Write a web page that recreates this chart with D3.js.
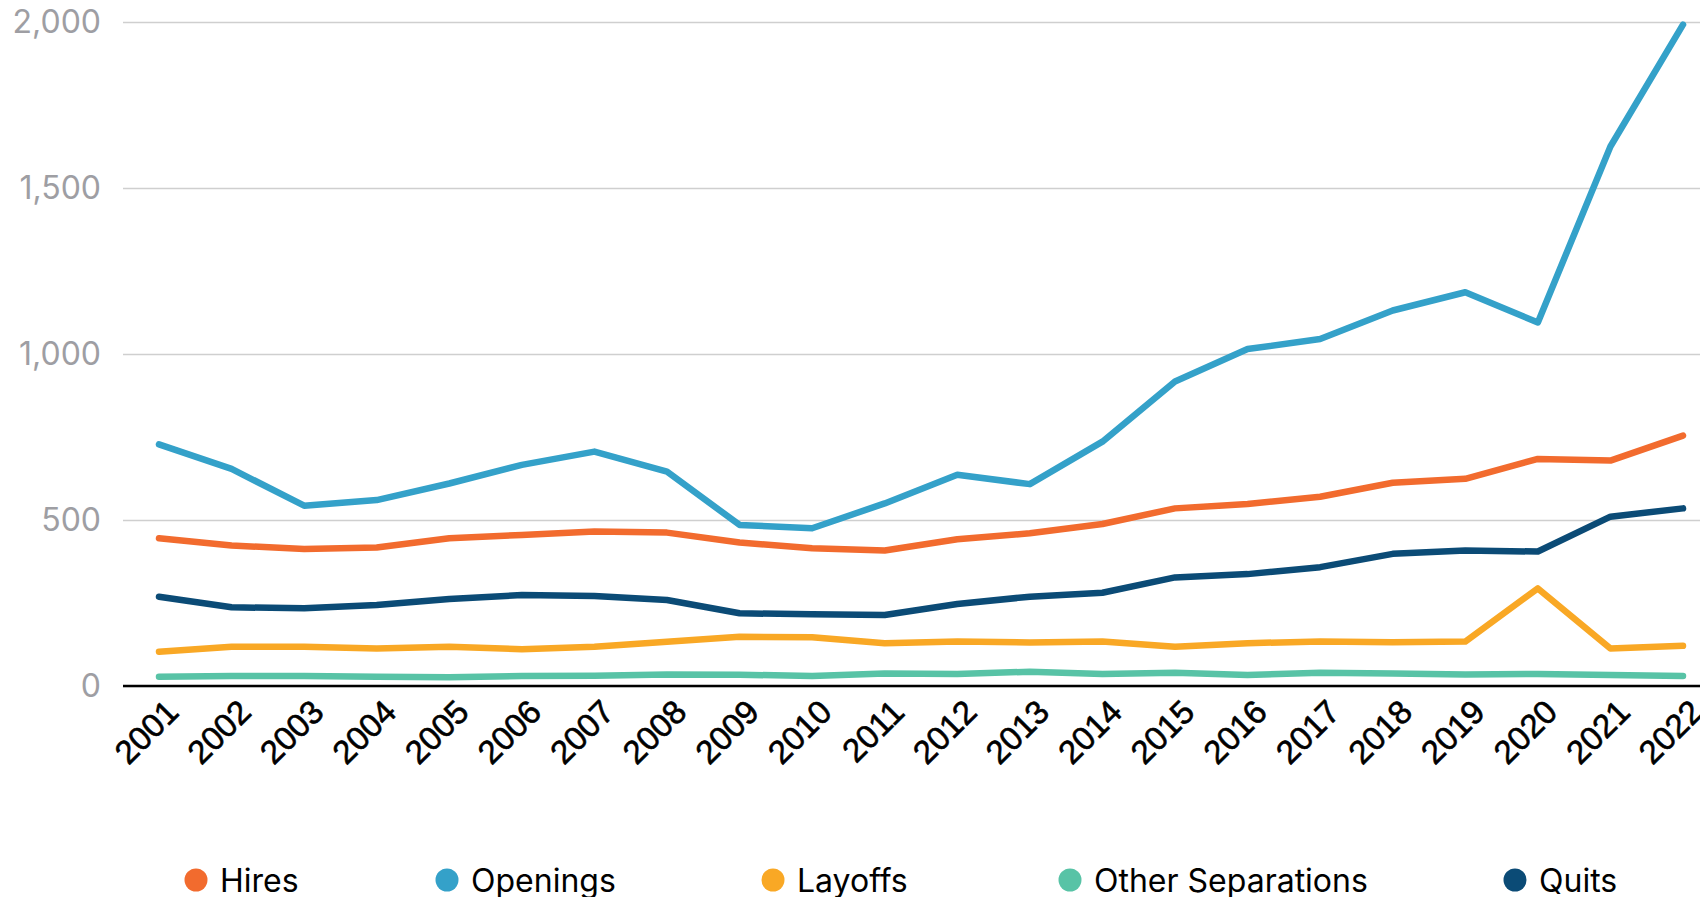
<!DOCTYPE html>
<html>
<head>
<meta charset="utf-8">
<script src="https://cdn.jsdelivr.net/npm/d3@7"></script>
<style>
  html, body { margin: 0; padding: 0; background: #ffffff; }
  svg { display: block; }
</style>
</head>
<body>
<svg id="chart" width="1700" height="897"></svg>
<script>
// ---- Data ----
const years = ["2001","2002","2003","2004","2005","2006","2007","2008","2009","2010","2011",
               "2012","2013","2014","2015","2016","2017","2018","2019","2020","2021","2022"];
const hires    = [445, 423, 413, 417, 445, 455, 465, 462, 432, 415, 408, 442, 460, 488, 535, 548, 570, 612, 624, 684, 679, 754];
const openings = [728, 654, 543, 560, 610, 666, 706, 646, 485, 475, 550, 636, 608, 736, 917, 1015, 1045, 1131, 1186, 1095, 1625, 1992];
const layoffs  = [103, 118, 118, 113, 118, 111, 118, 133, 148, 147, 129, 134, 131, 134, 118, 129, 134, 132, 134, 294, 113, 121];
const otherSep = [28, 30, 30, 28, 26, 30, 31, 35, 34, 30, 38, 36, 43, 36, 40, 33, 40, 38, 35, 36, 33, 30];
const quits    = [269, 237, 234, 244, 262, 274, 271, 259, 219, 216, 214, 247, 269, 281, 327, 337, 358, 398, 408, 405, 510, 535];
const yTicks   = [0, 500, 1000, 1500, 2000];
const seriesNames = ["Hires", "Openings", "Layoffs", "Other Separations", "Quits"];

// ---- Styling / layout ----
const colors = {
  "Hires": "#f26b2e",
  "Openings": "#34a1c9",
  "Layoffs": "#f9a825",
  "Other Separations": "#58c3a6",
  "Quits": "#0b4b76"
};
const seriesValues = {
  "Hires": hires, "Openings": openings, "Layoffs": layoffs,
  "Other Separations": otherSep, "Quits": quits
};
const drawOrder = ["Other Separations", "Layoffs", "Quits", "Hires", "Openings"];
const legendX = [196, 447, 773, 1070, 1515];

const plotLeft = 123, plotRight = 1700, yTop = 22, yBottom = 686;
const svg = d3.select("#chart");

const x = d3.scalePoint().domain(years).range([159, 1683]);
const y = d3.scaleLinear().domain([0, 2000]).range([yBottom, yTop]);

// Y axis + gridlines
const yAxis = d3.axisLeft(y)
  .tickValues(yTicks)
  .tickSize(-(plotRight - plotLeft))
  .tickPadding(22)
  .tickFormat(d3.format(","));
const gy = svg.append("g").attr("transform", `translate(${plotLeft},0)`).call(yAxis);
gy.select(".domain").remove();
gy.selectAll(".tick line").attr("stroke", "#cfcfcf").attr("stroke-width", 1.5);
gy.selectAll(".tick text")
  .attr("fill", "#9e9ea3")
  .style("font-family", "Inter, 'Noto Sans', sans-serif")
  .style("font-size", "32px");

// X axis line
const xAxis = d3.axisBottom(x).tickSize(0).tickPadding(0);
const gx = svg.append("g").attr("transform", `translate(0,${yBottom})`).call(xAxis);
gx.select(".domain")
  .attr("d", `M${plotLeft},0H${plotRight}`)
  .attr("stroke", "#000").attr("stroke-width", 2.6);
gx.selectAll(".tick text")
  .attr("text-anchor", "end")
  .attr("fill", "#000")
  .attr("stroke", "#000")
  .attr("stroke-width", 0.6)
  .style("font-family", "'Liberation Sans', Arial, sans-serif")
  .style("font-size", "33px")
  .attr("dy", null).attr("y", null)
  .attr("transform", "translate(21,28) rotate(-45)");

// Lines
const line = d3.line()
  .x((d, i) => x(years[i]))
  .y(d => y(d));
svg.append("g").selectAll("path")
  .data(drawOrder)
  .join("path")
  .attr("d", name => line(seriesValues[name]))
  .attr("fill", "none")
  .attr("stroke", name => colors[name])
  .attr("stroke-width", 6.5)
  .attr("stroke-linecap", "round")
  .attr("stroke-linejoin", "round");

// Legend
const lg = svg.append("g").selectAll("g")
  .data(seriesNames)
  .join("g")
  .attr("transform", (d, i) => `translate(${legendX[i]},880)`);
lg.append("circle").attr("r", 11.5).attr("fill", d => colors[d]);
lg.append("text")
  .attr("x", 24).attr("y", 12)
  .attr("fill", "#000")
  .style("font-family", "Inter, 'Noto Sans', sans-serif")
  .style("font-size", "32px")
  .text(d => d);
</script>
</body>
</html>
